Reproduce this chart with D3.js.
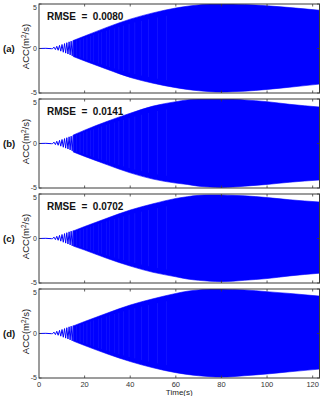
<!DOCTYPE html>
<html>
<head>
<meta charset="utf-8">
<script src="https://cdn.jsdelivr.net/npm/d3@7"></script>
<style>
  body { margin: 0; background: #fff; }
  svg { display: block; }
  text { font-family: "Liberation Sans", Arial, sans-serif; }
</style>
</head>
<body>
<script>
'use strict';

// panels
var panelIds = ['(a)', '(b)', '(c)', '(d)'];
var rmseLabels = ['0.0080', '0.0141', '0.0702', null];

// envelope of the dense response (m/s^2)
var envT = [15, 20, 30, 40, 50, 60, 65, 70, 75, 80, 85, 90, 100, 110, 123];
var upperA = [0.9, 1.4, 2.4, 3.3, 4.0, 4.55, 4.75, 4.9, 5.0, 5.0, 5.0, 4.95, 4.8, 4.6, 4.3];
var lowerA = [0.9, 1.4, 2.35, 3.25, 3.9, 4.4, 4.6, 4.75, 4.85, 4.9, 4.85, 4.8, 4.6, 4.35, 4.0];
var upperB = [0.95, 1.5, 2.5, 3.4, 4.2, 4.7, 4.9, 5.0, 5.0, 5.0, 5.0, 4.9, 4.7, 4.4, 4.1];
var lowerB = [0.95, 1.45, 2.4, 3.3, 4.0, 4.45, 4.6, 4.8, 4.9, 4.95, 4.9, 4.8, 4.6, 4.35, 4.1];
var upperC = [0.85, 1.35, 2.3, 3.2, 3.9, 4.5, 4.7, 4.85, 4.9, 4.9, 4.85, 4.8, 4.6, 4.35, 4.1];
var lowerC = [0.85, 1.3, 2.25, 3.1, 3.8, 4.3, 4.55, 4.7, 4.8, 4.85, 4.8, 4.7, 4.5, 4.2, 3.9];
var upperD = [0.85, 1.35, 2.3, 3.2, 3.9, 4.5, 4.75, 4.9, 5.0, 5.0, 4.95, 4.9, 4.7, 4.5, 4.2];
var lowerD = [0.85, 1.35, 2.3, 3.15, 3.85, 4.4, 4.6, 4.75, 4.85, 4.9, 4.85, 4.75, 4.55, 4.3, 4.0];
var uppers = [upperA, upperB, upperC, upperD];
var lowers = [lowerA, lowerB, lowerC, lowerD];

// start of the record: quiet, then slow wiggles before it gets dense
var wigT = [0, 3, 5.5, 6.0, 6.6, 7.2, 7.8, 8.4, 9.0, 9.55, 10.1, 10.65, 11.2, 11.7, 12.2, 12.7, 13.2, 13.65, 14.1, 14.55, 15.0];
var wigA = [0, 0.02, -0.02, 0, 0.15, -0.12, 0.25, -0.2, 0.35, -0.3, 0.45, -0.42, 0.55, -0.52, 0.65, -0.62, 0.75, -0.72, 0.82, -0.82, 0.9];

// lighter streaks in the dense part
var streakT = [16.5, 18, 19.5, 21, 22.5, 24, 26, 27.5, 29.5, 31, 33, 35, 37, 39.5, 42, 45, 48, 52, 56];

var xTicks = [0, 20, 40, 60, 80, 100, 120];
var yTicks = [-5, 0, 5];

var width = 322, height = 396;
var left = 39, right = 319.5;
var tops = [4, 99, 194, 289];
var ph = 89;
var blue = '#0000ff';

var svg = d3.select('body').append('svg')
    .attr('width', width)
    .attr('height', height);

var x = d3.scaleLinear().domain([0, 123]).range([left, right]);

panelIds.forEach(function(id, i) {
    var top = tops[i], bottom = top + ph;
    var y = d3.scaleLinear().domain([-5, 5]).range([bottom, top]);
    var g = svg.append('g');

    g.append('clipPath').attr('id', 'clip' + i)
        .append('rect').attr('x', left).attr('y', top)
        .attr('width', right - left).attr('height', ph);

    var plot = g.append('g').attr('clip-path', 'url(#clip' + i + ')');

    var up = uppers[i], lo = lowers[i];
    var env = envT.map(function(t, k) { return { t: t, u: up[k], l: lo[k] }; });

    plot.append('path')
        .datum(env)
        .attr('fill', blue)
        .attr('stroke', blue)
        .attr('stroke-width', 0.6)
        .attr('d', d3.area()
            .x(function(d) { return x(d.t); })
            .y0(function(d) { return y(-d.l); })
            .y1(function(d) { return y(d.u); })
            .curve(d3.curveMonotoneX));

    // streaks
    var upAt = d3.scaleLinear().domain(envT).range(up);
    var loAt = d3.scaleLinear().domain(envT).range(lo);
    plot.selectAll('line.streak')
        .data(streakT)
        .enter().append('line')
        .attr('class', 'streak')
        .attr('x1', function(t) { return x(t); })
        .attr('x2', function(t) { return x(t); })
        .attr('y1', function(t) { return y(upAt(t) * 0.85); })
        .attr('y2', function(t) { return y(-loAt(t) * 0.85); })
        .attr('stroke', '#7a7aff')
        .attr('stroke-width', 0.5)
        .attr('opacity', 0.3);

    plot.append('path')
        .datum(wigT.map(function(t, k) { return [t, wigA[k]]; }))
        .attr('fill', 'none')
        .attr('stroke', blue)
        .attr('stroke-width', 1)
        .attr('d', d3.line()
            .x(function(d) { return x(d[0]); })
            .y(function(d) { return y(d[1]); }));

    // box
    g.append('rect')
        .attr('x', left).attr('y', top)
        .attr('width', right - left).attr('height', ph)
        .attr('fill', 'none')
        .attr('stroke', '#3a3a3a')
        .attr('stroke-width', 1);

    // ticks inside the box
    var tk = g.append('g').attr('stroke', '#3a3a3a').attr('stroke-width', 0.8);
    xTicks.slice(1).forEach(function(v) {
        tk.append('line').attr('x1', x(v)).attr('x2', x(v)).attr('y1', bottom).attr('y2', bottom - 2.5);
        tk.append('line').attr('x1', x(v)).attr('x2', x(v)).attr('y1', top).attr('y2', top + 2.5);
    });
    yTicks.forEach(function(v) {
        tk.append('line').attr('x1', left).attr('x2', left + 2.5).attr('y1', y(v)).attr('y2', y(v));
        tk.append('line').attr('x1', right).attr('x2', right - 2.5).attr('y1', y(v)).attr('y2', y(v));
    });

    // tick labels: ends nudged inward as in the original
    var nudge = { '-5': -1, '0': 0, '5': 3 };
    g.selectAll('text.ytick')
        .data(yTicks)
        .enter().append('text')
        .attr('class', 'ytick')
        .attr('x', left - 2)
        .attr('y', function(v) { return y(v) + 2.5 + nudge[v]; })
        .attr('text-anchor', 'end')
        .attr('font-size', 7)
        .attr('fill', '#333')
        .text(function(v) { return v; });

    var yl = g.append('text')
        .attr('transform', 'translate(29,' + (top + ph / 2 - 2) + ') rotate(-90)')
        .attr('text-anchor', 'middle')
        .attr('font-size', 9.5)
        .attr('fill', '#222');
    yl.append('tspan').text('ACC(m');
    yl.append('tspan').attr('dy', -3.5).attr('font-size', 6.5).text('2');
    yl.append('tspan').attr('dy', 3.5).text('/s)');

    g.append('text')
        .attr('x', 3)
        .attr('y', top + ph / 2 + 3.5)
        .attr('font-size', 9.5)
        .attr('font-weight', 'bold')
        .attr('fill', '#111')
        .text(id);

    if (rmseLabels[i]) {
        g.append('text')
            .attr('x', 47)
            .attr('y', top + 16)
            .attr('font-size', 10)
            .attr('font-weight', 'bold')
            .attr('fill', '#111')
            .style('white-space', 'pre')
            .text('RMSE  =  ' + rmseLabels[i]);
    }

    if (i === 3) {
        g.selectAll('text.xtick')
            .data(xTicks)
            .enter().append('text')
            .attr('class', 'xtick')
            .attr('x', function(v) { return x(v); })
            .attr('y', bottom + 9)
            .attr('text-anchor', 'middle')
            .attr('font-size', 7.5)
            .attr('fill', '#333')
            .text(function(v) { return v; });
        g.append('text')
            .attr('x', (left + right) / 2)
            .attr('y', bottom + 16.5)
            .attr('text-anchor', 'middle')
            .attr('font-size', 8)
            .attr('fill', '#222')
            .text('Time(s)');
    }
});
</script>
</body>
</html>
